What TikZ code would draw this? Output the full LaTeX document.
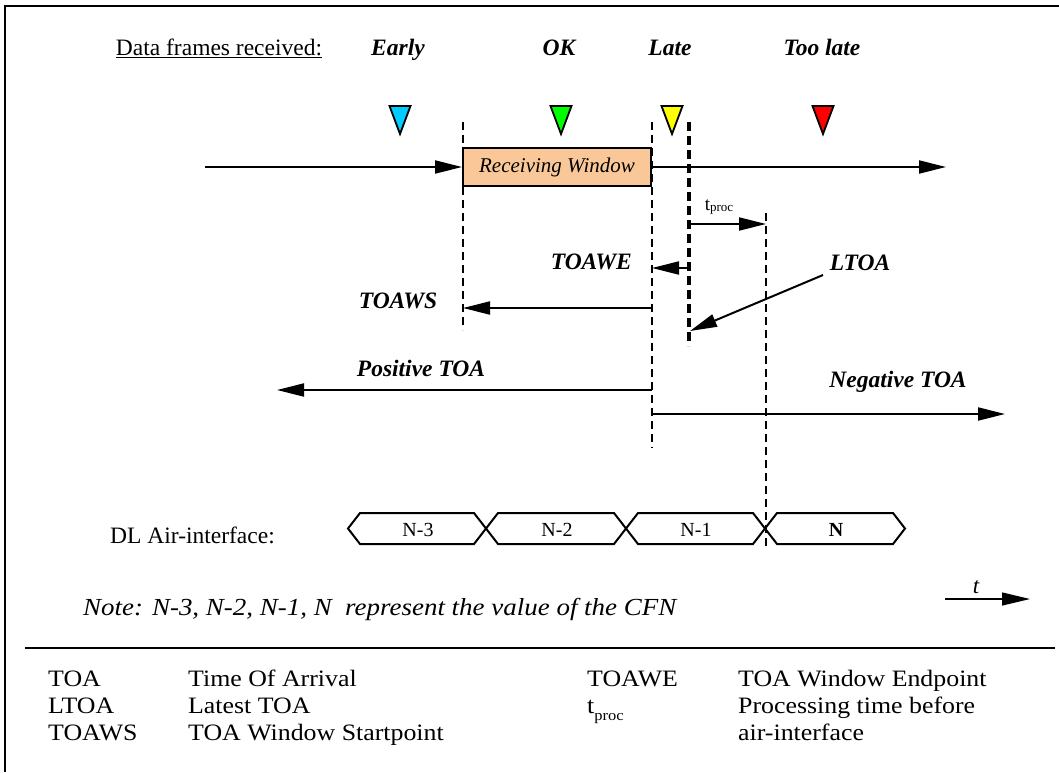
\documentclass[tikz,border=0pt]{standalone}
\usepackage{fontspec}
\setmainfont{Liberation Serif}
\usetikzlibrary{arrows.meta}
\definecolor{rwfill}{RGB}{250,200,152}
\definecolor{tcyan}{RGB}{0,204,255}
\definecolor{tgreen}{RGB}{0,255,0}
\definecolor{tyellow}{RGB}{255,255,0}
\definecolor{tred}{RGB}{255,0,0}
\newcommand\fs[1]{\fontsize{#1}{#1}\selectfont}
\newcommand\wide[1]{\scalebox{1.1}[1]{#1}}
\begin{document}
\begin{tikzpicture}[x=1pt,y=-1pt,
  every node/.style={inner sep=0pt},
  lbl/.style={font=\fs{23.5}\bfseries\itshape},
  plain/.style={font=\fs{23.5}},
  tab/.style={font=\fs{23.5}, anchor=base west},
  arr/.style={line width=2pt, -{Triangle[length=27pt,width=13pt]}},
  thinline/.style={line width=2pt, dash pattern=on 8pt off 5pt},
  thickline/.style={line width=3.5pt, dash pattern=on 9pt off 5pt},
  cellbox/.style={line width=2pt, line join=miter},
  flagtri/.style={line width=1.8pt, line join=miter}]
\useasboundingbox (0,0) rectangle (1059,772);
% frame
\draw[line width=2.5pt] (5,772) -- (5,6) -- (1059,6);
\draw[line width=2pt] (25,648) -- (1055,648);
% header
\node[plain, anchor=base] (hdr) at (219,55) {\underline{Data frames received:}};
\node[lbl, anchor=base] (early) at (398,55) {Early};
\node[lbl, anchor=base] (ok) at (559,55) {OK};
\node[lbl, anchor=base] (late) at (670,55) {Late};
\node[lbl, anchor=base] (toolate) at (822,55) {Too late};
% markers
\foreach \x/\c in {400/tcyan,561/tgreen,672/tyellow,823/tred}
  \draw[flagtri, fill=\c] (\x-10.5,106) -- (\x+10.5,106) -- (\x,134) -- cycle;
% receiving window
\node[draw, line width=2pt, fill=rwfill, minimum width=188pt, minimum height=38pt,
      font=\fs{21}\itshape] (rw) at (557,167) {Receiving Window};
\coordinate (ms) at (205,167);
\coordinate (me) at (946,167);
\draw[arr] (ms) -- (rw.west);
\draw[arr] (rw.east) -- (me);
% vertical dashed lines
\coordinate (l1t) at (463,122); \coordinate (l1b) at (463,330);
\coordinate (l2t) at (652,122); \coordinate (l2b) at (652,448);
\coordinate (l3t) at (689,122); \coordinate (l3b) at (689,346);
\coordinate (l4t) at (766,213); \coordinate (l4b) at (766,548);
\draw[thinline] (l1t) -- (l1b);
\draw[thinline] (l2t) -- (l2b);
\draw[thickline] (l3t) -- (l3b);
\draw[thinline] (l4t) -- (l4b);
% t_proc
\coordinate (tp1) at (689,224); \coordinate (tp2) at (766,224);
\draw[arr] (tp1) -- (tp2);
\node[font=\fs{19}] (tproc) at (719,207) {t\raisebox{-1pt}{\fs{13}proc}};
% TOAWE
\coordinate (we1) at (689,268); \coordinate (we2) at (652,268);
\draw[arr] (we1) -- (we2);
\node[lbl, anchor=east] (toawe) at (632,262) {TOAWE};
% TOAWS
\coordinate (ws1) at (652,308); \coordinate (ws2) at (463,308);
\draw[arr] (ws1) -- (ws2);
\node[lbl] (toaws) at (398,301) {TOAWS};
% LTOA
\node[lbl] (ltoa) at (860,263) {LTOA};
\coordinate (lt1) at (823,275); \coordinate (lt2) at (690,331);
\draw[arr] (lt1) -- (lt2);
% Positive / Negative TOA
\coordinate (pt1) at (652,390); \coordinate (pt2) at (277,390);
\draw[arr] (pt1) -- (pt2);
\node[lbl] (ptoa) at (421,368) {Positive TOA};
\coordinate (nt1) at (652,414); \coordinate (nt2) at (1005,414);
\draw[arr] (nt1) -- (nt2);
\node[lbl] (ntoa) at (898,382) {Negative TOA};
% air interface
\node[plain, anchor=west] (dl) at (110,535) {DL Air-interface:};
\foreach \a/\b in {348/486,486/626,626/765,765/905}
  \draw[cellbox] (\a+12,513) -- (\b-12,513) -- (\b,528.5) -- (\b-12,544) -- (\a+12,544) -- (\a,528.5) -- cycle;
\node[font=\fs{20}] (c3) at (418,530) {N-3};
\node[font=\fs{20}] (c2) at (557,530) {N-2};
\node[font=\fs{20}] (c1) at (696,530) {N-1};
\node[font=\fs{20}\bfseries] (c0) at (836,530) {N};
% note
\node[font=\fs{24.5}\itshape, anchor=west] (note) at (83,609) {\wide{Note: N-3, N-2, N-1, N\ \ represent the value of the CFN}};
% time arrow
\coordinate (ts) at (945,599); \coordinate (te) at (1030,599);
\coordinate (tsb) at (957,599);
\draw[line width=1.2pt, -{Triangle[length=28pt,width=13pt]}] (ts) -- (te);
\draw[line width=2pt] (ts) -- (tsb);
\node[font=\fs{23}\itshape] (tlab) at (976,587) {t};
% table
\node[tab] (k1) at (48,686) {\wide{TOA}};
\node[tab] (v1) at (188,686) {\wide{Time Of Arrival}};
\node[tab] (k2) at (48,713) {\wide{LTOA}};
\node[tab] (v2) at (188,713) {\wide{Latest TOA}};
\node[tab] (k3) at (48,740) {\wide{TOAWS}};
\node[tab] (v3) at (188,740) {\wide{TOA Window Startpoint}};
\node[tab] (k4) at (587,686) {\wide{TOAWE}};
\node[tab] (v4) at (738,686) {\wide{TOA Window Endpoint}};
\node[tab] (k5) at (587,713) {\wide{t\raisebox{-7pt}{\fs{15}proc}}};
\node[tab] (v5) at (738,713) {\wide{Processing time before}};
\node[tab] (v6) at (738,740) {\wide{air-interface}};
\end{tikzpicture}
\end{document}
